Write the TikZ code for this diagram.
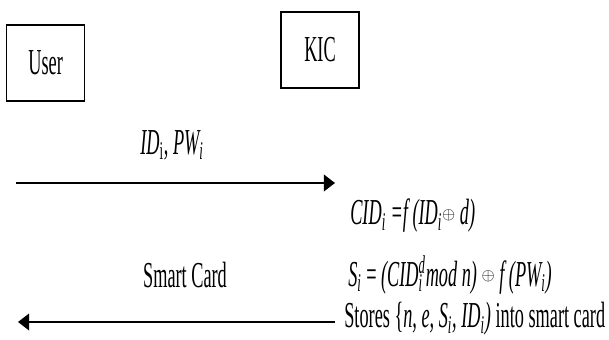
\documentclass[tikz,border=0pt]{standalone}
\usepackage{fontspec}
\setmainfont{Liberation Serif}[FakeStretch=0.5]
\usetikzlibrary{positioning,arrows.meta}
\newcommand{\tsub}[1]{\textsubscript{#1}}
\newcommand{\tsubsup}[2]{\rlap{\textsubscript{#1}}\textsuperscript{#2}}
\newcommand{\xorop}{\raisebox{4pt}{\fontsize{12}{14}\selectfont$\oplus$}}

\begin{document}
\begin{tikzpicture}[
    every node/.style={font=\fontsize{26}{30}\selectfont},
    party/.style={draw, line width=1.1pt, minimum width=1.95cm, minimum height=1.9cm, inner sep=0pt},
    msg/.style={line width=1.2pt, -{Triangle[length=0.28cm, width=0.42cm]}},
    eqn/.style={anchor=west, inner sep=0pt}
]
    \useasboundingbox (0,0) rectangle (15.225,8.5);

    % Parties
    \node[party] (user) at (1.14,6.93) {User};
    \node[party] (kic) at (8.0,7.25) {KIC};

    % Registration request
    \node (idpw) at (4.3,4.875) {\textit{ID}\tsub{i}, \textit{PW\tsub{i}}};
    \coordinate (reqL) at (0.4,3.925);
    \coordinate (reqR) at (8.375,3.925);
    \draw[msg] (reqL) -- (reqR);

    % KIC computes
    \node[eqn] (cid) at (8.75,3.1) {\textit{CID\tsub{i} =f (ID\tsub{i}}\xorop\ \textit{d)}};
    \node[eqn] (si) at (8.7,1.62) {\textit{S\tsub{i}} = \textit{(CID\tsubsup{i}{d}mod n)} \xorop\ \textit{f (PW\tsub{i})}};
    \node[eqn] (stores) at (8.6,0.52) {Stores \{\textit{n, e, S\tsub{i}, ID\tsub{i})} into smart card};

    % Smart card issued
    \node (card) at (4.625,1.625) {Smart Card};
    \coordinate (cardR) at (8.375,0.45);
    \coordinate (cardL) at (0.45,0.45);
    \draw[msg] (cardR) -- (cardL);
\end{tikzpicture}
\end{document}
